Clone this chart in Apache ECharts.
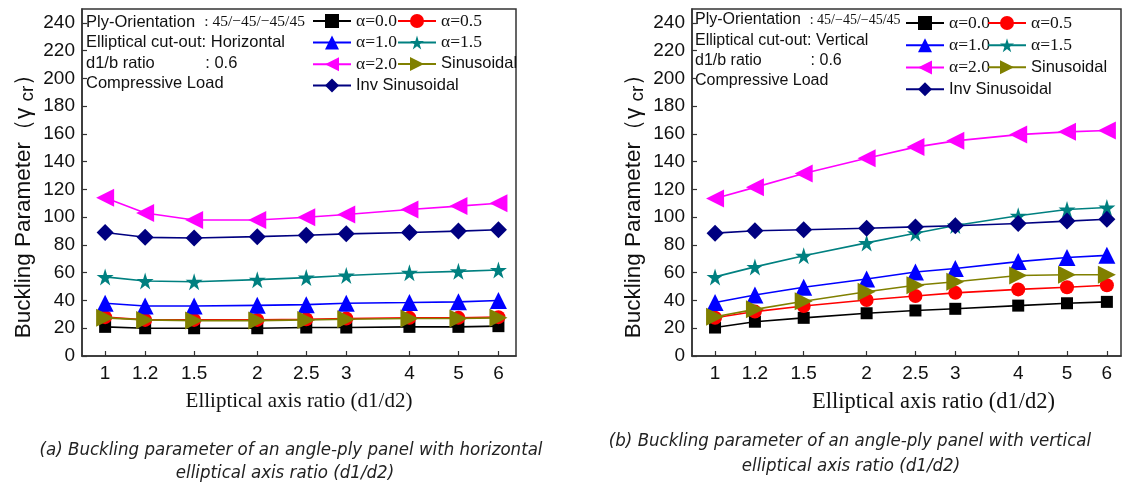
<!DOCTYPE html>
<html>
<head>
<meta charset="utf-8">
<script src="https://cdn.jsdelivr.net/npm/echarts@6/dist/echarts.min.js"></script>
<style>html,body{margin:0;padding:0;background:#fff;}#c{width:1126px;height:488px;}</style>
</head>
<body>
<div id="c"></div>
<script>
// ---- data ----
const xValues = [1, 1.2, 1.5, 2, 2.5, 3, 4, 5, 6];
const xTickLabels = [1, 1.2, 1.5, 2, 2.5, 3, 4, 5, 6];
const yTickInterval = 20;
const seriesNames = ['α=0.0', 'α=0.5', 'α=1.0', 'α=1.5', 'α=2.0', 'Sinusoidal', 'Inv Sinusoidal'];

// (a) horizontal elliptical cut-out
const hA00 = [21, 20, 20, 20, 20.5, 20.5, 21, 21, 21.5];
const hA05 = [28, 26, 26, 26, 26.5, 27, 27.5, 27.5, 28];
const hA10 = [38, 36, 36, 36.5, 37, 38, 38.5, 39, 40];
const hA15 = [57, 54, 53.5, 55, 56.5, 58, 60, 61, 62];
const hA20 = [114, 103, 98, 98, 100, 102, 105.5, 108, 110];
const hSin = [27.5, 26, 25.5, 25.5, 26, 26.5, 27, 27, 27.5];
const hInv = [89, 85.5, 85, 86, 87, 88, 89, 90, 91];

// (b) vertical elliptical cut-out
const vA00 = [20.5, 24.7, 27.5, 30.8, 32.8, 34, 36.3, 38, 39];
const vA05 = [27.6, 32, 36, 40.3, 43.2, 45.5, 48, 49.5, 51];
const vA10 = [38.6, 43.9, 49.5, 55.5, 60.5, 63, 68, 71, 72.5];
const vA15 = [57, 64.2, 72.2, 81.5, 88.5, 94, 101, 105.5, 107];
const vA20 = [113.5, 121.5, 131.5, 142.5, 150.5, 155, 159.5, 161.5, 162.5];
const vSin = [28.3, 33.6, 39.5, 46.3, 51, 53.5, 58, 58.5, 58.5];
const vInv = [88.5, 90.2, 91, 92, 93, 93.8, 95.5, 97.2, 98.5];

const hData = [hA00, hA05, hA10, hA15, hA20, hSin, hInv];
const vData = [vA00, vA05, vA10, vA15, vA20, vSin, vInv];

// ---- styles ----
const STAR = 'path://M50,0 L61,35 L98,35 L68,57 L79,91 L50,70 L21,91 L32,57 L2,35 L39,35 Z';
const styles = [
  {color: '#000000', symbol: 'rect', size: 12, rotate: 0},
  {color: '#ff0000', symbol: 'circle', size: 14, rotate: 0},
  {color: '#0000ff', symbol: 'triangle', size: 17, rotate: 0},
  {color: '#008080', symbol: STAR, size: 17, rotate: 0},
  {color: '#ff00ff', symbol: 'triangle', size: 18, rotate: 90},
  {color: '#808000', symbol: 'triangle', size: 18, rotate: -90},
  {color: '#000080', symbol: 'diamond', size: 17, rotate: 0}
];
const SANS = 'Liberation Sans, Arial, sans-serif';
const SERIF = 'Liberation Serif, Times New Roman, serif';

function pairs(ys) { return xValues.map((x, i) => [x, ys[i]]); }

function makeSeries(dataSet, idx) {
  return dataSet.map((ys, k) => ({
    name: seriesNames[k],
    type: 'line',
    xAxisIndex: idx, yAxisIndex: idx,
    data: pairs(ys),
    symbol: styles[k].symbol,
    symbolSize: styles[k].size,
    symbolRotate: styles[k].rotate,
    lineStyle: {color: styles[k].color, width: 1.6},
    itemStyle: {color: styles[k].color},
    z: 2 + k,
    animation: false
  }));
}

function xAxisOf(gi, maxV, nameSize, nameShift) {
  return {
    type: 'log', logBase: 10, gridIndex: gi, min: 0.9, max: maxV,
    name: 'Elliptical axis ratio (d1/d2)', nameLocation: 'middle', nameGap: 35,
    nameTextStyle: {fontFamily: SERIF, fontSize: nameSize, color: '#111', padding: [0, 0, 0, nameShift]},
    axisLine: {lineStyle: {color: '#333', width: 1.5}},
    axisTick: {inside: true, length: 5, customValues: xTickLabels, lineStyle: {color: '#333', width: 1.2}},
    minorTick: {show: false},
    axisLabel: {customValues: xTickLabels, fontFamily: SANS, fontSize: 19, color: '#111', margin: 8},
    splitLine: {show: false}, minorSplitLine: {show: false}
  };
}
function yAxisOf(gi) {
  return {
    type: 'value', gridIndex: gi, min: 0, max: 250, interval: yTickInterval,
    name: '{a|Buckling Parameter（γ }{s|cr}{a|）}', nameLocation: 'middle', nameGap: 45,
    nameTextStyle: {
      color: '#111', padding: [0, 36, 0, 0],
      rich: {
        a: {fontFamily: SANS, fontSize: 22.5, color: '#111', lineHeight: 27, verticalAlign: 'middle'},
        s: {fontFamily: SANS, fontSize: 19, color: '#111', lineHeight: 27, verticalAlign: 'bottom', padding: [16, 0, 0, 0]}
      }
    },
    axisLine: {show: true, lineStyle: {color: '#333', width: 1.5}},
    axisTick: {show: true, inside: true, length: 5, lineStyle: {color: '#333', width: 1.2}},
    axisLabel: {fontFamily: SANS, fontSize: 19, color: '#111', margin: 7, showMaxLabel: false},
    splitLine: {show: false}
  };
}

function legendData(names) {
  return names.map(n => ({name: n, textStyle: {fontFamily: n.startsWith('α') ? SERIF : SANS, fontSize: n.startsWith('α') ? 17.5 : 16.5, color: '#111'}}));
}
function legendOf(left, top, names, gap) {
  return {
    orient: 'vertical', left: left, top: top, itemWidth: 38, itemHeight: 17.5, itemGap: gap,
    textStyle: {lineHeight: 17.5}, padding: 0,
    data: legendData(names), selectedMode: false
  };
}
const col1 = [seriesNames[0], seriesNames[2], seriesNames[4], seriesNames[6]];
const col2 = [seriesNames[1], seriesNames[3], seriesNames[5]];

function annot(x, y0, pitch, line2, fs, bfs, pad) {
  const rows = [
    '{a|Ply-Orientation' + pad[0] + '}{b|: 45/−45/−45/45}',
    '{a|Elliptical cut-out: ' + line2 + '}',
    '{a|d1/b ratio' + pad[1] + ': 0.6}',
    '{a|Compressive Load}'
  ];
  return rows.map((r, i) => ({
    type: 'text', x: x, y: y0 + i * pitch,
    style: {
      text: r, verticalAlign: 'middle',
      rich: {
        a: {fontFamily: SANS, fontSize: fs, fill: '#111'},
        b: {fontFamily: SERIF, fontSize: bfs, fill: '#111'}
      }
    }
  }));
}
function caption(cx, y, txt) {
  return {
    type: 'text', x: cx, y: y,
    style: {text: txt, fontFamily: 'Liberation Sans Narrow, DejaVu Sans Condensed, sans-serif', fontStyle: 'italic', fontSize: 18.5, fill: '#222', align: 'center', verticalAlign: 'middle'}
  };
}

const chart = echarts.init(document.getElementById('c'), null, {renderer: 'canvas'});
chart.setOption({
  animation: false,
  backgroundColor: '#fff',
  grid: [
    {left: 82, top: 9, width: 434, height: 347, show: true, borderColor: '#333', borderWidth: 1.5, containLabel: false},
    {left: 692, top: 9, width: 429, height: 347, show: true, borderColor: '#333', borderWidth: 1.5, containLabel: false}
  ],
  xAxis: [xAxisOf(0, 6.5, 21, 0), xAxisOf(1, 6.4, 22.5, 54)],
  yAxis: [yAxisOf(0), yAxisOf(1)],
  legend: [
    legendOf(312, 12, col1, 3.6), legendOf(397, 12, col2, 3.6),
    legendOf(905, 14, col1, 4.2), legendOf(987, 14, col2, 4.2)
  ],
  series: makeSeries(hData, 0).concat(makeSeries(vData, 1)),
  graphic: [].concat(
    annot(86, 22, 20.6, 'Horizontal', 16.5, 15.5, ['  ', '           ']),
    annot(695, 20, 20.3, 'Vertical', 16, 14, ['  ', '           ']),
    [
      caption(291, 450, '(a) Buckling parameter of an angle-ply panel with horizontal'),
      caption(285, 473, 'elliptical axis ratio (d1/d2)'),
      caption(850, 441, '(b) Buckling parameter of an angle-ply panel with vertical'),
      caption(851, 466, 'elliptical axis ratio (d1/d2)')
    ]
  )
});
</script>
</body>
</html>
